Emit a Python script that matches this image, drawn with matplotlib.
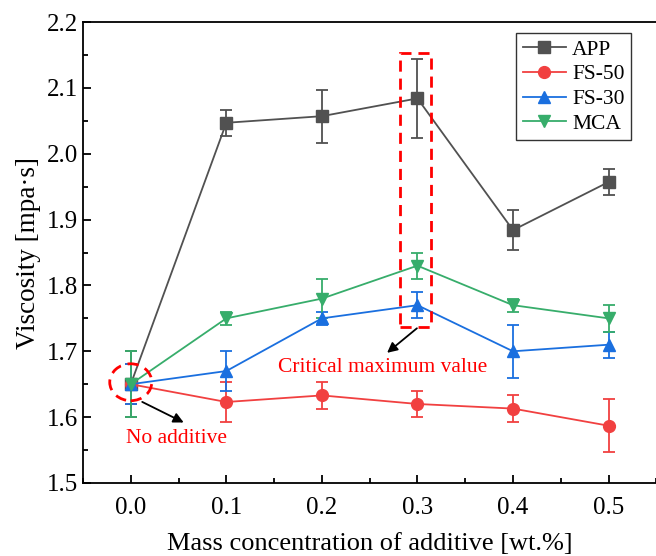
import matplotlib.pyplot as plt
from matplotlib.patches import Rectangle, Ellipse
from matplotlib.lines import Line2D
from matplotlib.ticker import MultipleLocator

plt.rcParams['font.family'] = ['Liberation Serif', 'DejaVu Serif']

conc = [0.0, 0.1, 0.2, 0.3, 0.4, 0.5]

app = [1.65, 2.047, 2.057, 2.084, 1.884, 1.957]
app_err = [0.05, 0.02, 0.04, 0.06, 0.03, 0.02]

fs50 = [1.65, 1.623, 1.633, 1.620, 1.613, 1.587]
fs50_err = [0.03, 0.03, 0.02, 0.02, 0.02, 0.04]

fs30 = [1.65, 1.67, 1.75, 1.77, 1.70, 1.71]
fs30_err = [0.03, 0.03, 0.01, 0.02, 0.04, 0.02]

mca = [1.65, 1.75, 1.78, 1.83, 1.77, 1.75]
mca_err = [0.05, 0.01, 0.03, 0.02, 0.01, 0.02]

names = ['APP', 'FS-50', 'FS-30', 'MCA']
colors = ['#515151', '#F14040', '#1A6FDF', '#37AD6B']
markers = ['s', 'o', '^', 'v']

fig = plt.figure(figsize=(6.56, 5.56), dpi=100)
ax = fig.add_axes([0.1265, 0.1313, 0.874, 0.8291])

series = [(app, app_err), (fs50, fs50_err), (fs30, fs30_err), (mca, mca_err)]
handles = []
for (vals, errs), name, c, m in zip(series, names, colors, markers):
    ax.errorbar(conc, vals, yerr=errs, color=c, marker=m, markersize=8.5,
                linewidth=1.3, elinewidth=1.3, capsize=4, capthick=1.3)
    handles.append(Line2D([], [], color=c, marker=m, markersize=8.5,
                          linewidth=1.3, label=name))

# red dashed highlights
ax.add_patch(Rectangle((0.2814, 1.7376), 0.0324, 0.415, fill=False,
                       edgecolor='red', linestyle=(0, (4, 2.5)), linewidth=2, zorder=5))
ax.add_patch(Ellipse((0.0, 1.653), 0.044, 0.056, fill=False,
                     edgecolor='red', linestyle=(0, (4, 2.5)), linewidth=2, zorder=5))

ax.annotate('', xy=(0.058, 1.590), xytext=(0.0094, 1.625),
            arrowprops=dict(arrowstyle='-|>', color='black', lw=1.3, mutation_scale=15))
ax.annotate('', xy=(0.266, 1.695), xytext=(0.3017, 1.7376),
            arrowprops=dict(arrowstyle='-|>', color='black', lw=1.3, mutation_scale=15))

ax.text(0.048, 1.567, 'No additive', color='red', fontsize=15.5, ha='center', va='center')
ax.text(0.2636, 1.675, 'Critical maximum value', color='red', fontsize=15.5,
        ha='center', va='center')

ax.set_xlim(-0.05, 0.55)
ax.set_ylim(1.5, 2.2)
ax.xaxis.set_major_locator(MultipleLocator(0.1))
ax.xaxis.set_minor_locator(MultipleLocator(0.05))
ax.yaxis.set_major_locator(MultipleLocator(0.1))
ax.yaxis.set_minor_locator(MultipleLocator(0.05))
ax.xaxis.set_major_formatter(plt.FormatStrFormatter('%.1f'))
ax.yaxis.set_major_formatter(plt.FormatStrFormatter('%.1f'))
ax.tick_params(which='both', direction='in', top=False, right=False,
               labelsize=18, width=1.3)
ax.tick_params(which='major', length=6)
ax.tick_params(which='minor', length=3.5)
ax.tick_params(axis='x', pad=10)
for s in ax.spines.values():
    s.set_linewidth(1.3)
ax.spines['right'].set_visible(False)

ax.set_xlabel('Mass concentration of additive [wt.%]', fontsize=19, labelpad=10)
ax.set_ylabel('Viscosity [mpa·s]', fontsize=19.5, labelpad=4)

leg = ax.legend(handles=handles, loc='upper right', bbox_to_anchor=(0.956, 0.976),
                borderaxespad=0, fontsize=15.5, frameon=True, fancybox=False,
                edgecolor='black', handlelength=2.0, borderpad=0.3,
                labelspacing=0.22, handletextpad=0.3)
leg.get_frame().set_linewidth(1.0)

fig.savefig('out.png', dpi=100)
